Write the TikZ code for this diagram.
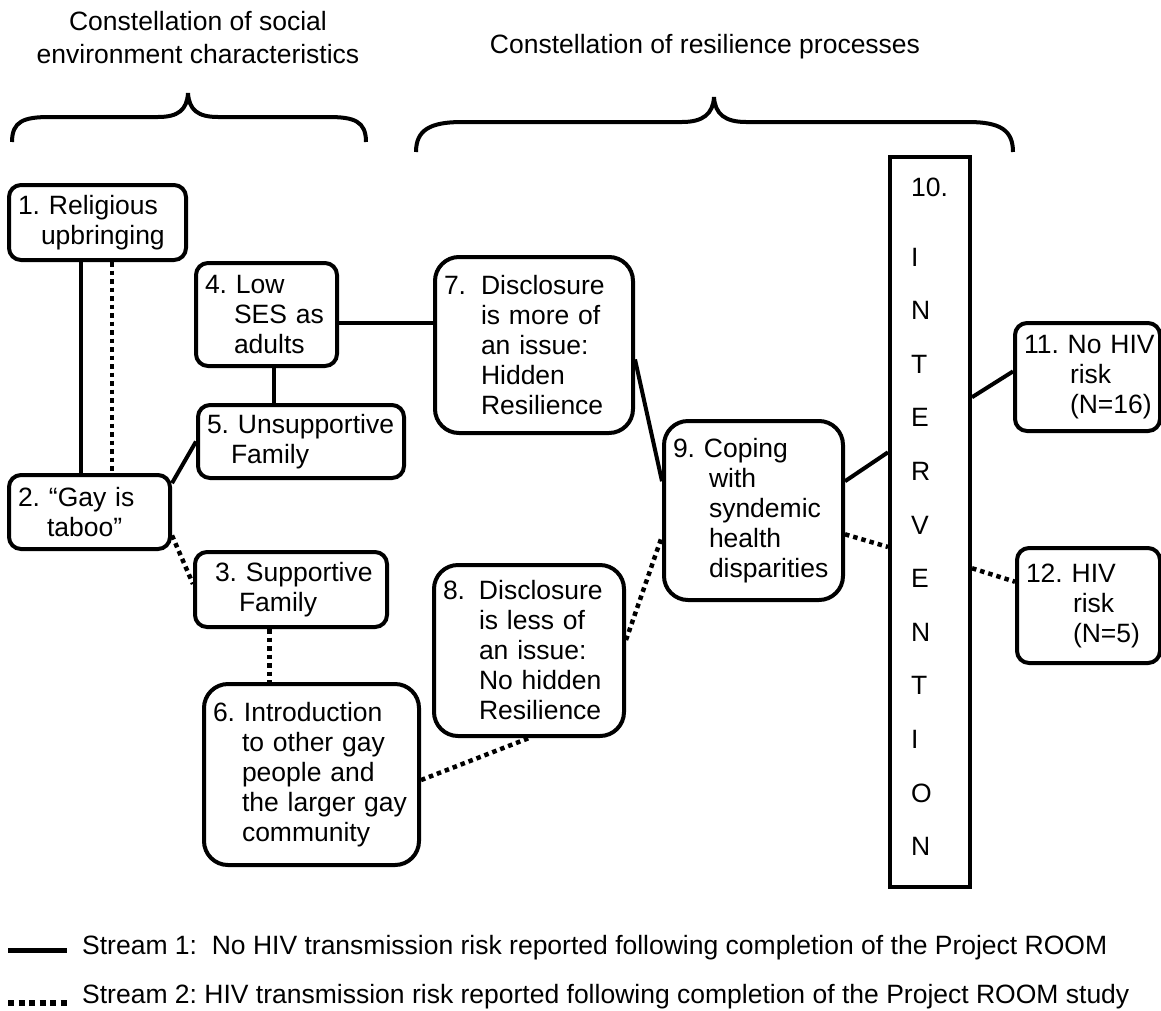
\documentclass[tikz,border=0pt]{standalone}
\usepackage{fontspec}
\setmainfont{Liberation Sans}
\usetikzlibrary{calc}
\frenchspacing

\tikzset{
	factorbox/.style={draw, line width=4pt, rounded corners=12pt, anchor=north west,
		align=left, inner xsep=9pt, inner ysep=0pt,
		font=\fontsize{26.5}{30}\selectfont},
	bigfactorbox/.style={factorbox, rounded corners=24pt},
	letter/.style={anchor=west, inner sep=0pt, font=\fontsize{26.5}{30}\selectfont},
	solidlink/.style={line width=4pt},
	dottedlink/.style={line width=4.5pt, dash pattern=on 4.5pt off 4pt},
	headline/.style={align=center, font=\fontsize{26.5}{33}\selectfont},
	legendtext/.style={anchor=west, inner sep=0pt, font=\fontsize{26.5}{30}\selectfont},
}

\begin{document}
\begin{tikzpicture}[x=1pt, y=-1pt]
	\useasboundingbox (0,0) rectangle (1161,1010);

	% Ueberschriften
	\node[headline] (socialtitle) at (198,38) {Constellation of social\\environment characteristics};
	\node[headline] (resiltitle) at (705,47) {Constellation of resilience processes};

	% Klammern
	\draw[line width=4pt] (12,142) .. controls (12,121) and (24,117) .. (50,117) -- (158,117)
		.. controls (178,117) and (187,110) .. (188,93) .. controls (189,110) and (198,117) .. (218,117)
		-- (328,117) .. controls (354,117) and (366,121) .. (366,142);
	\draw[line width=4pt] (416,152) .. controls (416,130) and (430,122) .. (462,122) -- (682,122)
		.. controls (703,122) and (713,114) .. (714,97) .. controls (715,114) and (725,122) .. (746,122)
		-- (968,122) .. controls (1000,122) and (1013,130) .. (1013,152);

	% soziales Umfeld
	\node[factorbox, text width=159pt, minimum height=75pt] (n1) at (7,183)
		{1. Religious\\\hspace*{23pt}upbringing};
	\node[factorbox, text width=143pt, minimum height=74pt] (n2) at (7,473)
		{2. “Gay is\\\hspace*{29pt}taboo”};
	\node[factorbox, text width=174pt, minimum height=75pt] (n3) at (193,550)
		{\hspace*{11pt}3. Supportive\\\hspace*{35pt}Family};
	\node[factorbox, text width=123pt, minimum height=103pt] (n4) at (194,261)
		{4. Low\\\hspace*{29pt}SES as\\\hspace*{29pt}adults};
	\node[factorbox, text width=188pt, minimum height=73pt] (n5) at (196,403)
		{\mbox{5. Unsupportive}\\\hspace*{24pt}Family};
	\node[bigfactorbox, text width=197pt, minimum height=181pt] (n6) at (202,682)
		{6. Introduction\\\hspace*{29pt}to other gay\\\hspace*{29pt}people and\\\hspace*{29pt}\mbox{the larger gay}\\\hspace*{29pt}community};

	% Resilienz
	\node[bigfactorbox, text width=180pt, minimum height=176pt] (n7) at (433,255)
		{\makebox[37pt][l]{7.}Disclosure\\\hspace*{37pt}is more of\\\hspace*{37pt}an issue:\\\hspace*{37pt}Hidden\\\hspace*{37pt}Resilience};
	\node[bigfactorbox, text width=172pt, minimum height=171pt] (n8) at (432,563)
		{\makebox[36pt][l]{8.}Disclosure\\\hspace*{36pt}is less of\\\hspace*{36pt}an issue:\\\hspace*{36pt}No hidden\\\hspace*{36pt}Resilience};
	\node[bigfactorbox, text width=161pt, minimum height=179pt] (n9) at (662,419)
		{9. Coping\\\hspace*{36pt}with\\\hspace*{36pt}syndemic\\\hspace*{36pt}health\\\hspace*{36pt}disparities};

	% Intervention
	\node[draw, line width=4pt, anchor=north west, minimum width=80pt, minimum height=730pt,
		inner sep=0pt] (n10) at (888,155) {};
	\node[letter] (n10num) at ($(n10.north west)+(23,32)$) {10.};
	\foreach \l [count=\i] in {I,N,T,E,R,V,E,N,T,I,O,N} {
		\pgfmathsetmacro{\ly}{102+(\i-1)*53.6}
		\node[letter] (L\i) at ($(n10.north west)+(23,\ly)$) {\l};
	}

	% Ergebnis
	\node[factorbox, text width=127pt, minimum height=108pt] (n11) at (1013,321)
		{\mbox{11. No HIV}\\\hspace*{46pt}risk\\\hspace*{46pt}(N=16)};
	\node[factorbox, text width=125pt, minimum height=115pt] (n12) at (1015,546)
		{12. HIV\\\hspace*{47pt}risk\\\hspace*{47pt}(N=5)};

	% Verbindungen Stream 1
	\draw[solidlink] ($(n1.south west)!.41!(n1.south east)$) coordinate (p12) -- (p12 |- n2.north);
	\draw[solidlink] ($(n2.north east)!.13!(n2.south east)$) -- (n5.west);
	\draw[solidlink] ($(n4.south west)!.55!(n4.south east)$) coordinate (p45) -- (p45 |- n5.north);
	\draw[solidlink] ($(n4.north east)!.58!(n4.south east)$) coordinate (p47) -- (p47 -| n7.west);
	\draw[solidlink] ($(n7.north east)!.58!(n7.south east)$) -- ($(n9.north west)!.34!(n9.south west)$);
	\draw[solidlink] ($(n9.north east)!.34!(n9.south east)$) -- ($(n10.north west)!.405!(n10.south west)$);
	\draw[solidlink] ($(n10.north east)!.33!(n10.south east)$) -- ($(n11.north west)!.45!(n11.south west)$);

	% Verbindungen Stream 2
	\draw[dottedlink] ($(n1.south west)!.58!(n1.south east)$) coordinate (q12) -- (q12 |- n2.north);
	\draw[dottedlink] ($(n2.north east)!.8!(n2.south east)$) -- ($(n3.north west)!.43!(n3.south west)$);
	\draw[dottedlink] ($(n3.south west)!.39!(n3.south east)$) coordinate (q36) -- (q36 |- n6.north);
	\draw[dottedlink] ($(n6.north east)!.53!(n6.south east)$) -- (n8.south);
	\draw[dottedlink] ($(n8.north east)!.44!(n8.south east)$) -- ($(n9.north west)!.64!(n9.south west)$);
	\draw[dottedlink] ($(n9.north east)!.63!(n9.south east)$) -- ($(n10.north west)!.534!(n10.south west)$);
	\draw[dottedlink] ($(n10.north east)!.563!(n10.south east)$) -- ($(n12.north west)!.3!(n12.south west)$);

	% Legende
	\coordinate (leg1a) at (8,950);
	\coordinate (leg1b) at (67,950);
	\draw[line width=5pt] (leg1a) -- (leg1b);
	\node[legendtext] (legend1) at (82,948)
		{Stream 1:\ \ No HIV transmission risk reported following completion of the Project ROOM};
	\coordinate (leg2a) at (8,1003);
	\coordinate (leg2b) at (67,1003);
	\draw[line width=6pt, dash pattern=on 6pt off 4.5pt] (leg2a) -- (leg2b);
	\node[legendtext] (legend2) at (82,997)
		{Stream 2: HIV transmission risk reported following completion of the Project ROOM study};
\end{tikzpicture}
\end{document}
